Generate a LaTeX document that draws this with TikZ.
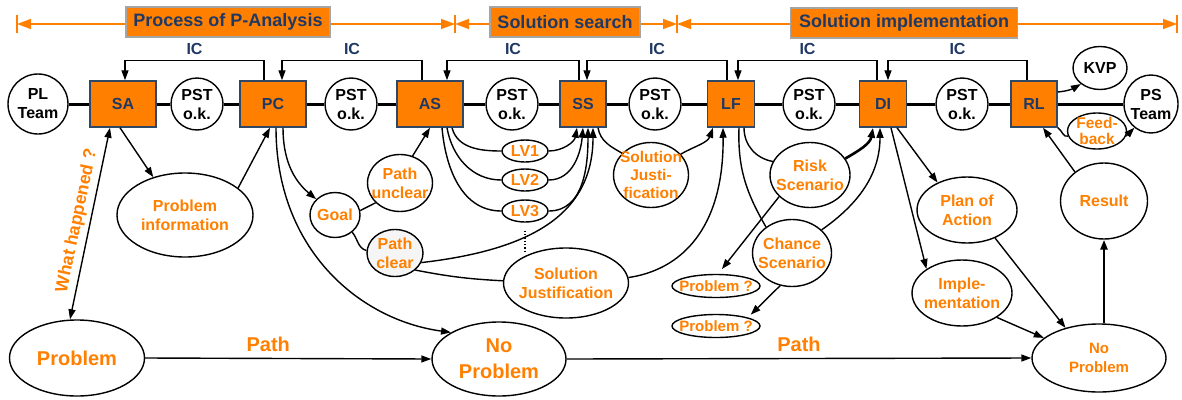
\documentclass[tikz,border=0pt]{standalone}
\usepackage{fontspec}
\setmainfont{Liberation Sans}
\usetikzlibrary{shapes.geometric,arrows.meta,calc}
\definecolor{org}{RGB}{255,128,0}
\definecolor{dblue}{RGB}{31,56,100}
\definecolor{bordblue}{RGB}{47,72,102}
\definecolor{bgray}{RGB}{165,165,165}
\begin{document}
\begin{tikzpicture}[x=1pt,y=1pt,
  font=\bfseries\fontsize{16}{19}\selectfont,
  box/.style 2 args={rectangle, draw=bordblue, fill=org, line width=1.5pt, text=dblue, minimum width=#1pt, minimum height=#2pt, inner sep=0pt},
  banner/.style 2 args={rectangle, draw=bgray, fill=org, line width=1.8pt, text=dblue, font=\bfseries\fontsize{18}{20}\selectfont, inner sep=0pt, minimum width=#1pt, minimum height=#2pt},
  el/.style 2 args={ellipse, draw, line width=1.4pt, fill=white, minimum width=#1pt, minimum height=#2pt, inner sep=0pt},
  ot/.style={text=org, align=center},
  bt/.style={text=black, align=center},
  bigf/.style={font=\bfseries\fontsize{20}{26}\selectfont},
  pst/.style={el={52}{52}, label={[bt]center:{PST\\o.k.}}},
  con/.style={line width=1.4pt},
  arr/.style={con, -{Triangle[length=10pt,width=7pt]}},
  dbl/.style={con, {Triangle[length=10pt,width=7pt]}-{Triangle[length=10pt,width=7pt]}},
  bline/.style={draw=org, line width=1.5pt, {Triangle[length=14pt,width=10pt]}-{Triangle[length=14pt,width=10pt]}},
  tick/.style={draw=org, line width=1.5pt},
  icl/.style={pos=0.25, above=2pt, text=dblue}
]
\fill[white] (0,0) rectangle (1182,-399);
\useasboundingbox (0,0) rectangle (1182,-399);

% ---------- banner ----------
\coordinate (k0) at (17,-24);
\coordinate (k1) at (455,-24);
\coordinate (k2) at (677,-24);
\coordinate (k3) at (1177,-24);
\draw[bline] (k0) -- (k1);
\draw[bline] (k1) -- (k2);
\draw[bline] (k2) -- (k3);
\foreach \k in {k0,k1,k2,k3}{\draw[tick] ([yshift=9pt]\k) -- ([yshift=-9pt]\k);}
\node[banner={204}{30}] (b1) at (228,-22) {Process of P-Analysis};
\node[banner={150}{30}] (b2) at (565,-22) {Solution search};
\node[banner={227}{30}] (b3) at (904,-23) {Solution implementation};

% ---------- main row ----------
\node[el={60}{60}, label={[bt]center:{PL\\Team}}] (PL) at (38,-104) {};
\node[box={66}{46}] (SA) at (123,-104) {SA};
\node[pst] (P1) at (197,-104) {};
\node[box={66}{46}] (PC) at (273,-104) {PC};
\node[pst] (P2) at (351,-104) {};
\node[box={66}{46}] (AS) at (430,-104) {AS};
\node[pst] (P3) at (512,-104) {};
\node[box={46}{46}] (SS) at (583,-104) {SS};
\node[pst] (P4) at (655,-104) {};
\node[box={47}{46}] (LF) at (731,-104) {LF};
\node[pst] (P5) at (809,-104) {};
\node[box={47}{46}] (DI) at (883,-104) {DI};
\node[pst] (P6) at (962,-104) {};
\node[box={46}{46}] (RL) at (1034,-104) {RL};
\node[el={54}{43}, label={[bt]center:{KVP}}] (KVP) at (1100,-68) {};
\node[el={54}{58}, label={[bt]center:{PS\\Team}}] (PS) at (1151,-104) {};
\node[el={59}{36}, label={[ot, font=\bfseries\fontsize{15.5}{16}\selectfont]center:{Feed-\\back}}] (FB) at (1097,-131) {};

\draw[line width=3pt] (PL) -- (SA) -- (P1) -- (PC) -- (P2) -- (AS) -- (P3) -- (SS) -- (P4) -- (LF) -- (P5) -- (DI) -- (P6) -- (RL) -- (PS);

% ---------- IC feedback loops ----------
\draw[arr] ([xshift=-9pt]PC.north) -- ++(0,20) -| node[icl]{IC} ([xshift=2pt]SA.north);
\draw[arr] ([xshift=-8pt]AS.north) -- ++(0,20) -| node[icl]{IC} ([xshift=9pt]PC.north);
\draw[arr] ([xshift=-4pt]SS.north) -- ++(0,20) -| node[icl]{IC} ([xshift=17pt]AS.north);
\draw[arr] ([xshift=-4pt]LF.north) -- ++(0,20) -| node[icl]{IC} ([xshift=4pt]SS.north);
\draw[arr] ([xshift=-6pt]DI.north) -- ++(0,20) -| node[icl]{IC} ([xshift=7pt]LF.north);
\draw[arr] ([xshift=-7pt]RL.north) -- ++(0,20) -| node[icl]{IC} ([xshift=5pt]DI.north);

% ---------- lower nodes ----------
\node[el={136}{84}, label={[ot]center:{Problem\\information}}] (PI) at (185,-215) {};
\node[el={50}{45}, label={[ot]center:{Goal}}] (Goal) at (335,-215) {};
\node[el={65}{57}, label={[ot]center:{Path\\unclear}}] (PU) at (400,-183) {};
\node[el={56}{47}, fill=black!4, label={[ot]center:{Path\\clear}}] (PCl) at (395,-253) {};
\node[el={46}{22}, label={[ot]center:{LV1}}] (LV1) at (525,-151) {};
\node[el={46}{22}, label={[ot]center:{LV2}}] (LV2) at (525,-180) {};
\node[el={46}{22}, label={[ot]center:{LV3}}] (LV3) at (525,-211) {};
\node[el={125}{70}, label={[ot]center:{Solution\\Justification}}] (SJ1) at (566,-283) {};
\node[el={75}{65}, label={[ot, font=\bfseries\fontsize{15.5}{18}\selectfont]center:{Solution\\Justi-\\fication}}] (SJ2) at (651,-175) {};
\node[el={80}{65}, label={[ot]center:{Risk\\Scenario}}] (Risk) at (810,-175) {};
\node[el={79}{67}, label={[ot]center:{Chance\\Scenario}}] (Chance) at (792,-253) {};
\node[el={88}{23}, label={[ot, font=\bfseries\fontsize{15}{18}\selectfont]center:{Problem ?}}] (PQ1) at (716,-286) {};
\node[el={88}{23}, label={[ot, font=\bfseries\fontsize{15}{18}\selectfont]center:{Problem ?}}] (PQ2) at (716,-326) {};
\node[el={100}{66}, label={[ot]center:{Plan of\\Action}}] (Plan) at (967,-210) {};
\node[el={100}{66}, label={[ot]center:{Imple-\\mentation}}] (Impl) at (962,-293) {};
\node[el={87}{76}, label={[ot]center:{Result}}] (Result) at (1104,-201) {};
\node[el={135}{76}, label={[ot, bigf]center:{Problem}}] (Prob) at (77,-358) {};
\node[el={134}{74}, label={[ot, bigf]center:{No\\Problem}}] (NP) at (499,-359) {};
\node[el={134}{68}, label={[ot, font=\bfseries\fontsize{15}{19}\selectfont]center:{No\\Problem}}] (NP2) at (1099,-358) {};

% ---------- connectors ----------
\draw[dbl] ([xshift=-13pt]SA.south) -- node[sloped, above=1pt, text=org, font=\bfseries\fontsize{17.5}{19}\selectfont]{What happened ?} ([xshift=-7pt]Prob.north);
\draw[arr] ([xshift=-3pt]SA.south) -- (PI.130);
\draw[arr] (PI.27) -- ([xshift=-3pt]PC.south);
\draw[arr] ([xshift=10pt]PC.south) to[out=-90,in=140] (Goal.140);
\draw[arr] ([xshift=3pt]PC.south) .. controls (276,-250) and (360,-320) .. (NP.151);
\draw[con] (Goal.10) -- (PU.219);
\draw[con] (Goal.-45) to[out=-50,in=165] (PCl.175);
\draw[arr] (PU.65) -- (AS.south);
\draw[arr] (PCl.-20) .. controls (530,-250) and (593,-215) .. ([xshift=10pt]SS.south);
\draw[con] (PCl.-40) to[bend right=4] (SJ1.178);
\draw[arr] (SJ1.5) .. controls (680,-270) and (724,-230) .. ([xshift=-8pt]LF.south);

\draw[con] ([xshift=22pt]AS.south) to[out=-75,in=180] (LV1.west);
\draw[con] ([xshift=17pt]AS.south) to[out=-80,in=180] (LV2.west);
\draw[con] ([xshift=12pt]AS.south) to[out=-85,in=180] (LV3.west);
\draw[arr] (LV1.east) to[out=0,in=-100] ([xshift=-6pt]SS.south);
\draw[arr] (LV2.east) to[out=0,in=-95] (SS.south);
\draw[arr] (LV3.east) to[out=0,in=-90] ([xshift=5pt]SS.south);
\draw[dotted, line width=1.3pt] ($(LV3.south)+(0,-8)$) -- ++(0,-20);

\draw[con] ([xshift=15pt]SS.south) to[out=-80,in=150] (SJ2.143);
\draw[arr] (SJ2.35) to[out=30,in=-110] ([xshift=-18pt]LF.south);

\draw[con] ([xshift=13pt]LF.south) to[out=-90,in=170] (Risk.160);
\draw[arr, line width=2.6pt] (Risk.25) to[out=30,in=-100] ([xshift=-10pt]DI.south);
\draw[con] ([xshift=8pt]LF.south) to[out=-92,in=120] (Chance.135);
\draw[arr] (Chance.38) to[out=35,in=-90] ([xshift=-3pt]DI.south);
\draw[arr, shorten >=6pt] (Risk.215) -- (PQ1.80);
\draw[arr, shorten >=4pt] (Chance.250) -- (PQ2.15);

\draw[arr] ([xshift=14pt]DI.south) -- (Plan.137);
\draw[arr] ([xshift=8pt]DI.south) -- (Impl.146);
\draw[arr] (Plan.-45) -- (NP2.138);
\draw[arr] (Impl.-35) -- (NP2.160);
\draw[arr, line width=2.6pt] (NP2.north -| Result.south) -- (Result.south);
\draw[arr] (Result.135) -- ([xshift=9pt]RL.south);
\draw[arr] ([yshift=12pt]RL.east) to[out=5,in=210] (KVP.220);
\draw[con] (RL.south east) to[out=-30,in=200] (FB.190);
\draw[arr] (FB.-10) -- (PS.235);

\draw[arr] (Prob.east) -- node[pos=0.43, above=3pt, text=org, bigf]{Path} (NP.west);
\draw[arr] (NP.east) -- node[pos=0.5, above=3pt, text=org, bigf]{Path} (NP2.west);
\end{tikzpicture}
\end{document}
